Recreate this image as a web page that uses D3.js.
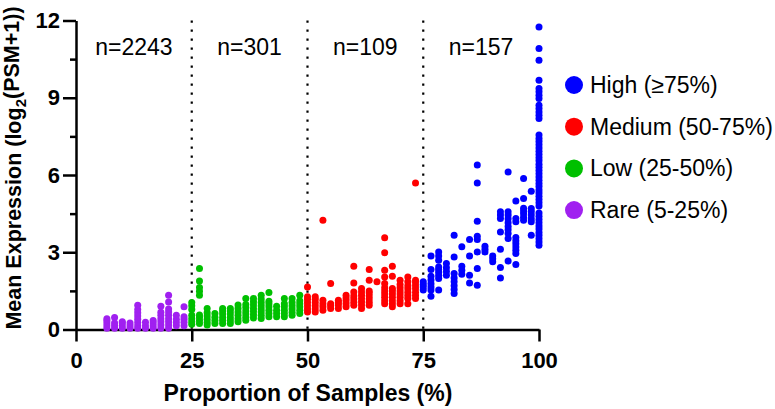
<!DOCTYPE html>
<html><head><meta charset="utf-8">
<script src="https://cdn.jsdelivr.net/npm/d3@7"></script>
<style>body{margin:0;background:#fff} text{font-family:"Liberation Sans",Arial,sans-serif}</style>
</head><body><svg id="c" width="775" height="409"></svg>
<script>
// ---- data (proportion of samples %, mean expression values per column) ----
const classNames = ["High (\u226575%)", "Medium (50-75%)", "Low (25-50%)", "Rare (5-25%)"];
const classColors = ["#0000ff", "#ff0000", "#00c000", "#a020f0"];
const classCounts = ["n=2243", "n=301", "n=109", "n=157"];
const countPositions = [12.5, 37.5, 62.5, 87.5];
const dividers = [25, 50, 75];
const xTicks = [0, 25, 50, 75, 100];
const yTicks = [0, 3, 6, 9, 12];
const yMinorTicks = [1.5, 4.5, 7.5, 10.5];

const rareCols = [6.67, 8.33, 10, 11.67, 13.33, 15, 16.67, 18.33, 20, 21.67, 23.33];
const rareVals = [
  [0.05,0.15,0.25,0.35,0.42],
  [0.05,0.15,0.25,0.47],
  [0.05,0.15,0.25,0.3],
  [0.05,0.15,0.25],
  [0.05,0.15,0.27,0.4,0.52,0.65,0.78,0.94],
  [0.05,0.15,0.28],
  [0.05,0.15,0.25,0.35],
  [0.05,0.17,0.3,0.42,0.55,0.67,0.9],
  [0.05,0.17,0.3,0.42,0.55,0.68,0.8,1.07,1.33],
  [0.15,0.27,0.4,0.55],
  [0.15,0.28,0.4,0.5,0.88]
];
const lowCols = [25, 26.67, 28.33, 30, 31.67, 33.33, 35, 36.67, 38.33, 40, 41.67, 43.33, 45, 46.67, 48.33];
const lowVals = [
  [0.2,0.3,0.42,0.55,0.78,0.92,1.05],
  [0.23,0.35,0.47,0.56,1.33,1.49,1.63,1.88,2.37],
  [0.17,0.28,0.4,0.52,0.65,0.82],
  [0.23,0.35,0.48,0.62],
  [0.23,0.35,0.47,0.6,0.72,0.82],
  [0.23,0.35,0.47,0.6,0.72,0.82],
  [0.3,0.42,0.55,0.68,0.82,0.95],
  [0.36,0.48,0.6,0.72,0.85,0.97,1.2],
  [0.45,0.57,0.7,0.82,0.95,1.08,1.2],
  [0.43,0.55,0.68,0.8,0.92,1.05,1.18,1.33],
  [0.5,0.62,0.75,0.88,1.0,1.1,1.44],
  [0.5,0.62,0.75,0.9],
  [0.5,0.62,0.75,0.88,1.0,1.2],
  [0.55,0.67,0.8,0.92,1.05,1.2],
  [0.62,0.75,0.88,1.0,1.12,1.33]
];
const medCols = [50, 51.67, 53.33, 55, 56.67, 58.33, 60, 61.67, 63.33, 65, 66.67, 68.33, 70, 71.67, 73.33];
const medVals = [
  [0.68,0.8,0.92,1.05,1.17,1.27,1.65],
  [0.68,0.8,0.92,1.05,1.17,1.27],
  [0.75,0.88,1.0,1.14,4.24],
  [0.82,0.92,1.0,1.79],
  [0.82,0.95,1.05,1.14],
  [0.88,1.0,1.12,1.22,1.33],
  [0.94,1.06,1.18,1.3,1.46,1.81,2.46],
  [0.82,0.95,1.08,1.2,1.33,1.46,1.59],
  [0.94,1.06,1.18,1.3,1.42,1.5,1.91,2.33],
  [1.85],
  [1.0,1.12,1.25,1.38,1.5,1.62,1.79,2.04,2.3,2.98,3.56],
  [0.88,1.0,1.12,1.25,1.38,1.5,1.59,2.07,2.46],
  [1.0,1.12,1.25,1.38,1.5,1.62,1.75,1.91],
  [1.0,1.2,1.32,1.45,1.58,1.7,1.85,2.04],
  [1.2,1.32,1.45,1.58,1.7,1.82,1.91,5.69]
];
const highCols = [75, 76.67, 78.33, 80, 81.67, 83.33, 85, 86.67, 88.33, 90, 91.67, 93.33, 95, 96.67, 98.33, 100];
const highVals = [
  [1.53,1.65,1.75,1.85],
  [1.29,1.53,1.65,1.78,1.92,2.07,2.33,2.85],
  [1.53,1.98,2.1,2.22,2.33,2.43,2.69,2.85,3.01],
  [2.11,2.25,2.4,2.56],
  [1.4,1.55,1.7,1.85,2.0,2.17,2.82,3.66],
  [2.15,2.3,2.46,3.21],
  [1.81,2.11,2.85,3.5],
  [1.72,2.37,3.01,3.5,3.62,4.2,5.69,6.39],
  [3.01,3.12,3.23],
  [2.63,2.75,2.85],
  [2.0,2.41,3.12,3.79,4.31,4.45,4.57],
  [2.66,3.53,3.73,3.87,4.0,4.15,4.3,4.45,4.57,6.12],
  [2.52,2.95,3.08,3.2,3.33,3.45,3.57,4.18,4.31,4.99],
  [4.24,4.36,4.5,4.6,4.71,5.09,5.86],
  [3.66,4.18,4.3,4.45,4.58,4.7,5.37],
  [3.27,3.4,3.52,3.65,3.77,3.9,4.02,4.15,4.27,4.4,4.52,4.8,4.92,5.05,5.17,5.3,5.42,5.55,5.67,5.8,5.92,6.05,6.17,6.3,6.42,6.55,6.67,6.8,6.92,7.05,7.17,7.3,7.42,7.55,8.19,8.32,8.45,8.58,8.71,8.97,9.1,9.23,9.36,9.68,10.46,10.91,11.75]
];

// ---- build ----
const groups = [
  {cols: highCols, vals: highVals, color: classColors[0]},
  {cols: medCols, vals: medVals, color: classColors[1]},
  {cols: lowCols, vals: lowVals, color: classColors[2]},
  {cols: rareCols, vals: rareVals, color: classColors[3]}
];
const points = [];
groups.forEach(g => g.cols.forEach((c, i) => g.vals[i].forEach(v => points.push({x: c, y: v, color: g.color}))));

const svg = d3.select('#c');
const x = d3.scaleLinear().domain([0, 100]).range([76, 539]);
const y = d3.scaleLinear().domain([0, 12]).range([329.5, 20.5]);

// dotted dividers
svg.append('g').selectAll('line').data(dividers).join('line')
  .attr('x1', d => x(d)).attr('x2', d => x(d))
  .attr('y1', y(12)).attr('y2', y(0))
  .attr('stroke', '#000').attr('stroke-width', 2.2).attr('stroke-dasharray', '2.2,6.8');

// axes
const xg = svg.append('g').attr('transform', `translate(0,${y(0)})`)
  .call(d3.axisBottom(x).tickValues(xTicks).tickSize(12).tickSizeOuter(0).tickPadding(11));
const yg = svg.append('g').attr('transform', `translate(${x(0)},0)`)
  .call(d3.axisLeft(y).tickValues(yTicks).tickSize(13).tickSizeOuter(0).tickPadding(3));
const ym = svg.append('g').attr('transform', `translate(${x(0)},0)`)
  .call(d3.axisLeft(y).tickValues(yMinorTicks).tickSize(6).tickFormat(''));
ym.select('.domain').remove();
[xg, yg, ym].forEach(g => {
  g.selectAll('path,line').attr('stroke', '#000').attr('stroke-width', 2.5);
  g.selectAll('text').attr('fill', '#000').style('font-size', '22px').style('font-weight', 'bold')
    .style('font-family', '"Liberation Sans",Arial,sans-serif');
});

// points
svg.append('g').selectAll('circle').data(points).join('circle')
  .attr('cx', d => x(d.x)).attr('cy', d => y(d.y)).attr('r', 3.5).attr('fill', d => d.color);

// n labels
svg.append('g').selectAll('text').data(classCounts).join('text')
  .attr('x', (d, i) => x(countPositions[i])).attr('y', 55)
  .attr('text-anchor', 'middle').style('font-size', '23px').text(d => d);

// legend
const leg = svg.append('g').selectAll('g').data(classNames).join('g')
  .attr('transform', (d, i) => `translate(574,${85 + i * 41.7})`);
leg.append('circle').attr('r', 9).attr('fill', (d, i) => classColors[i]);
leg.append('text').attr('x', 16).attr('dy', '0.35em').style('font-size', '23px').text(d => d);

// axis titles
svg.append('text').attr('x', 308).attr('y', 401).attr('text-anchor', 'middle')
  .style('font-size', '23px').style('font-weight', 'bold').text('Proportion of Samples (%)');
const yt = svg.append('text').attr('transform', 'translate(21,168) rotate(-90)')
  .attr('text-anchor', 'middle').style('font-size', '21.5px').style('font-weight', 'bold');
yt.append('tspan').text('Mean Expression (log');
yt.append('tspan').attr('dy', '0.3em').style('font-size', '15px').text('2');
yt.append('tspan').attr('dy', '-0.3em').text('(PSM+1))');
</script></body></html>
